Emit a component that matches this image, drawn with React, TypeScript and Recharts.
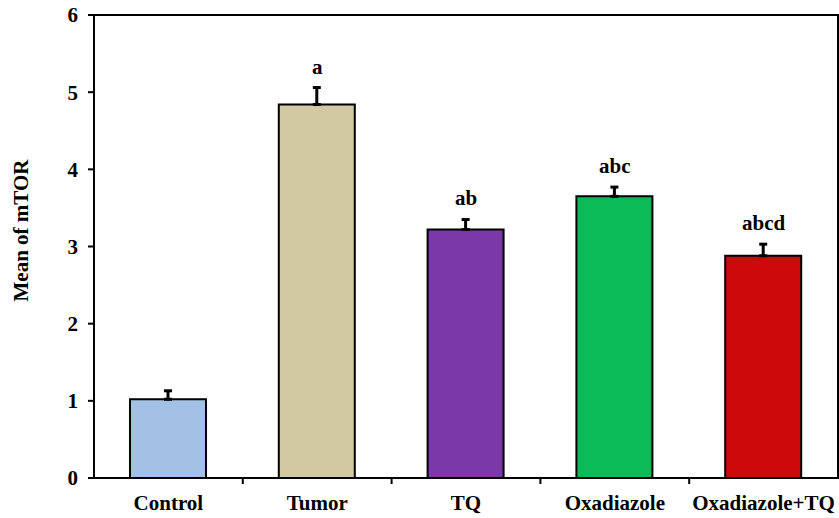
import { ComposedChart, Bar, Line, XAxis, YAxis, ErrorBar, Cell, LabelList, ReferenceArea } from "recharts";

const groups = ["Control", "Tumor", "TQ", "Oxadiazole", "Oxadiazole+TQ"];
const means = [1.02, 4.84, 3.22, 3.65, 2.88];
const sems = [0.11, 0.22, 0.13, 0.12, 0.15];
const letters = ["", "a", "ab", "abc", "abcd"];
const colors = ["#a3c1e5", "#d0c9a1", "#7a38a8", "#0bbb57", "#cc0a0a"];
const yTicks = [0, 1, 2, 3, 4, 5, 6];

const data = groups.map((name, i) => ({
  name,
  mean: means[i],
  err: [0, sems[i]],
  cap: means[i] + sems[i],
  letter: letters[i],
}));

const W = 839;
const H = 518;
const margin = { top: 15, right: 1, bottom: 10, left: 34 };
const Y_AXIS_W = 60;
const band = (W - margin.left - Y_AXIS_W - margin.right) / groups.length;
const font = "'Liberation Serif', 'Times New Roman', serif";
const textStyle = { fill: "#000", fontFamily: font, fontWeight: "bold", fontSize: 21 };

function CategoryTick(props: any) {
  const { x, y, payload, index } = props;
  return (
    <g>
      <text x={x} y={y + 32} textAnchor="middle" {...textStyle}>
        {payload.value}
      </text>
      {index < groups.length - 1 && (
        <line x1={x + band / 2} x2={x + band / 2} y1={y} y2={y + 6} stroke="#000" strokeWidth={2} />
      )}
    </g>
  );
}

export default function App() {
  return (
    <div style={{ position: "absolute", left: 0, top: 0, width: W, height: H, background: "#fff" }}>
      <ComposedChart width={W} height={H} data={data} margin={margin}>
        <XAxis
          dataKey="name"
          tick={<CategoryTick />}
          tickLine={false}
          tickSize={0}
          tickMargin={0}
          height={30}
          interval={0}
          axisLine={{ stroke: "#000", strokeWidth: 2 }}
        />
        <YAxis
          domain={[0, 6]}
          ticks={yTicks}
          width={Y_AXIS_W}
          tickSize={6}
          tickMargin={10}
          tickLine={{ stroke: "#000", strokeWidth: 2 }}
          axisLine={{ stroke: "#000", strokeWidth: 2 }}
          tick={textStyle}
          label={{
            value: "Mean of mTOR",
            angle: -90,
            position: "insideLeft",
            dx: -18,
            dy: -16,
            style: { ...textStyle, textAnchor: "middle" },
          }}
        />
        <ReferenceArea y1={0} y2={6} fill="none" stroke="#000" strokeWidth={2} />
        <Bar dataKey="mean" barSize={76} stroke="#000" strokeWidth={2} isAnimationActive={false}>
          {data.map((d, i) => (
            <Cell key={d.name} fill={colors[i]} />
          ))}
          <ErrorBar dataKey="err" direction="y" width={4} stroke="#000" strokeWidth={3} />
        </Bar>
        <Line dataKey="cap" stroke="none" dot={false} activeDot={false} isAnimationActive={false}>
          <LabelList dataKey="letter" position="top" offset={14} style={textStyle} />
        </Line>
      </ComposedChart>
    </div>
  );
}
